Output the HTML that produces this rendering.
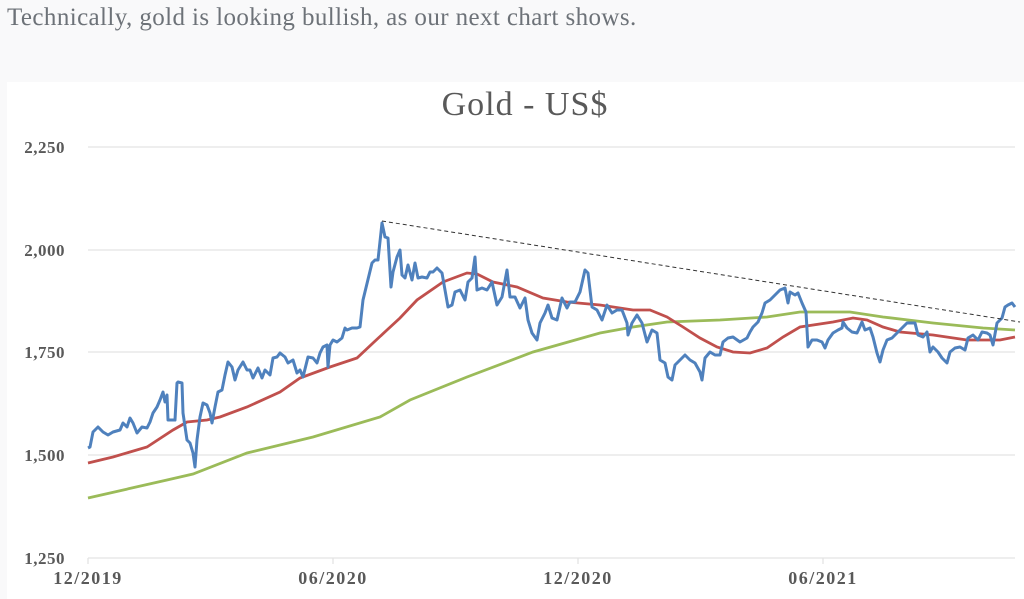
<!DOCTYPE html>
<html><head><meta charset="utf-8"><style>
body{margin:0;width:1024px;height:599px;background:#f9f9fa;overflow:hidden;font-family:"Liberation Serif",serif}
.t{position:absolute;left:7px;top:4px;font-size:25px;letter-spacing:0.4px;color:#6d7278}
.p{position:absolute;left:7px;top:82px;width:1017px;height:517px;background:#fff}
</style></head><body>
<div class="t">Technically, gold is looking bullish, as our next chart shows.</div>
<div class="p"></div>
<svg width="1024" height="599" style="position:absolute;left:0;top:0" font-family="Liberation Serif, serif">
<text x="525" y="115" text-anchor="middle" font-size="34" letter-spacing="1" fill="#595959">Gold - US$</text>
<g stroke="#e3e3e3" stroke-width="1.3">
<line x1="88" y1="147" x2="1015" y2="147"/><line x1="88" y1="250" x2="1015" y2="250"/><line x1="88" y1="352" x2="1015" y2="352"/><line x1="88" y1="455" x2="1015" y2="455"/><line x1="88" y1="558" x2="1015" y2="558"/>
<line x1="88" y1="558" x2="88" y2="564"/><line x1="333" y1="558" x2="333" y2="564"/><line x1="578" y1="558" x2="578" y2="564"/><line x1="823" y1="558" x2="823" y2="564"/>
</g>
<g font-size="17" font-weight="bold" fill="#595959" text-anchor="end" letter-spacing="0.5">
<text x="65" y="153">2,250</text><text x="65" y="256">2,000</text><text x="65" y="358">1,750</text><text x="65" y="461">1,500</text><text x="65" y="564">1,250</text>
</g>
<g font-size="18" font-weight="bold" fill="#595959" text-anchor="middle" letter-spacing="1.5">
<text x="88" y="584">12/2019</text><text x="333" y="584">06/2020</text><text x="578" y="584">12/2020</text><text x="823" y="584">06/2021</text>
</g>
<polyline fill="none" stroke="#9bbb59" stroke-width="2.8" points="88,498 167,480 193,474 247,453 313,437 380,417 410,400 467,377 533,352 600,333 633,327 667,322 720,320 767,317 800,312 850,312 883,317 933,323 983,328 1015,330"/>
<polyline fill="none" stroke="#c0504d" stroke-width="2.8" points="88,463 113,457 147,447 173,430 187,422 207,420 220,417 247,407 280,392 300,378 330,367 357,358 373,343 387,330 400,318 417,300 443,282 467,273 477,274 493,282 517,287 543,298 567,302 600,305 633,310 650,310 667,317 683,327 700,338 717,347 733,352 750,353 767,348 783,337 800,327 833,322 853,318 867,320 883,327 900,332 933,335 967,340 1000,340 1015,337"/>
<polyline fill="none" stroke="#4f81bd" stroke-width="3" stroke-linejoin="round" points="88,448 90,447 93,432 98,427 103,432 108,435 113,432 120,430 123,423 127,427 130,418 133,423 137,433 142,427 147,428 150,422 153,413 157,407 160,400 163,392 165,402 167,395 168,420 172,420 175,420 177,383 178,382 182,383 183,413 187,440 190,443 193,453 195,467 197,440 200,417 203,403 207,405 210,413 212,423 215,407 218,392 222,390 225,375 228,362 232,367 235,380 238,370 243,362 247,370 250,370 253,378 258,368 262,378 265,370 270,375 273,358 277,357 280,353 285,357 288,363 293,360 297,373 300,370 303,377 308,357 313,358 317,363 320,353 323,347 327,345 328,367 330,345 333,340 337,342 342,338 345,328 347,330 352,328 357,328 360,327 363,300 372,263 375,260 378,260 382,223 385,237 388,238 391,287 393,272 397,257 400,250 402,275 405,278 408,265 412,280 415,263 418,278 422,277 427,278 430,272 433,272 437,268 442,273 448,307 452,305 455,292 460,290 465,300 468,282 472,278 475,257 477,290 482,288 487,290 492,282 497,305 502,297 507,270 510,297 515,297 520,308 525,298 528,320 532,333 537,340 540,323 545,313 548,305 552,318 557,320 562,298 567,308 570,302 575,302 580,292 585,270 588,273 592,307 597,310 602,320 607,305 612,313 617,310 622,310 627,323 628,335 632,323 637,315 642,323 647,342 652,330 657,333 660,360 665,363 668,377 672,380 675,365 680,360 685,355 690,360 695,363 700,372 702,380 705,358 710,352 715,355 720,355 723,342 728,338 733,337 740,342 747,338 750,332 753,327 758,322 762,313 765,303 770,300 775,295 780,290 785,288 788,303 790,292 795,295 798,293 802,303 806,312 808,347 812,340 817,340 822,342 825,348 828,340 833,333 838,330 842,328 843,322 847,328 852,332 857,333 862,322 865,330 870,328 873,337 877,353 880,362 883,350 887,340 892,338 897,333 902,328 907,323 912,323 915,323 918,335 923,337 927,332 930,352 933,347 938,352 942,358 947,363 950,352 955,348 960,347 965,350 968,338 973,335 978,340 982,332 987,333 990,335 993,345 997,323 1002,318 1005,307 1008,305 1012,303 1015,307"/>
<line x1="382" y1="221" x2="1020" y2="322" stroke="#333" stroke-width="1" stroke-dasharray="4,3"/>
</svg>
</body></html>
